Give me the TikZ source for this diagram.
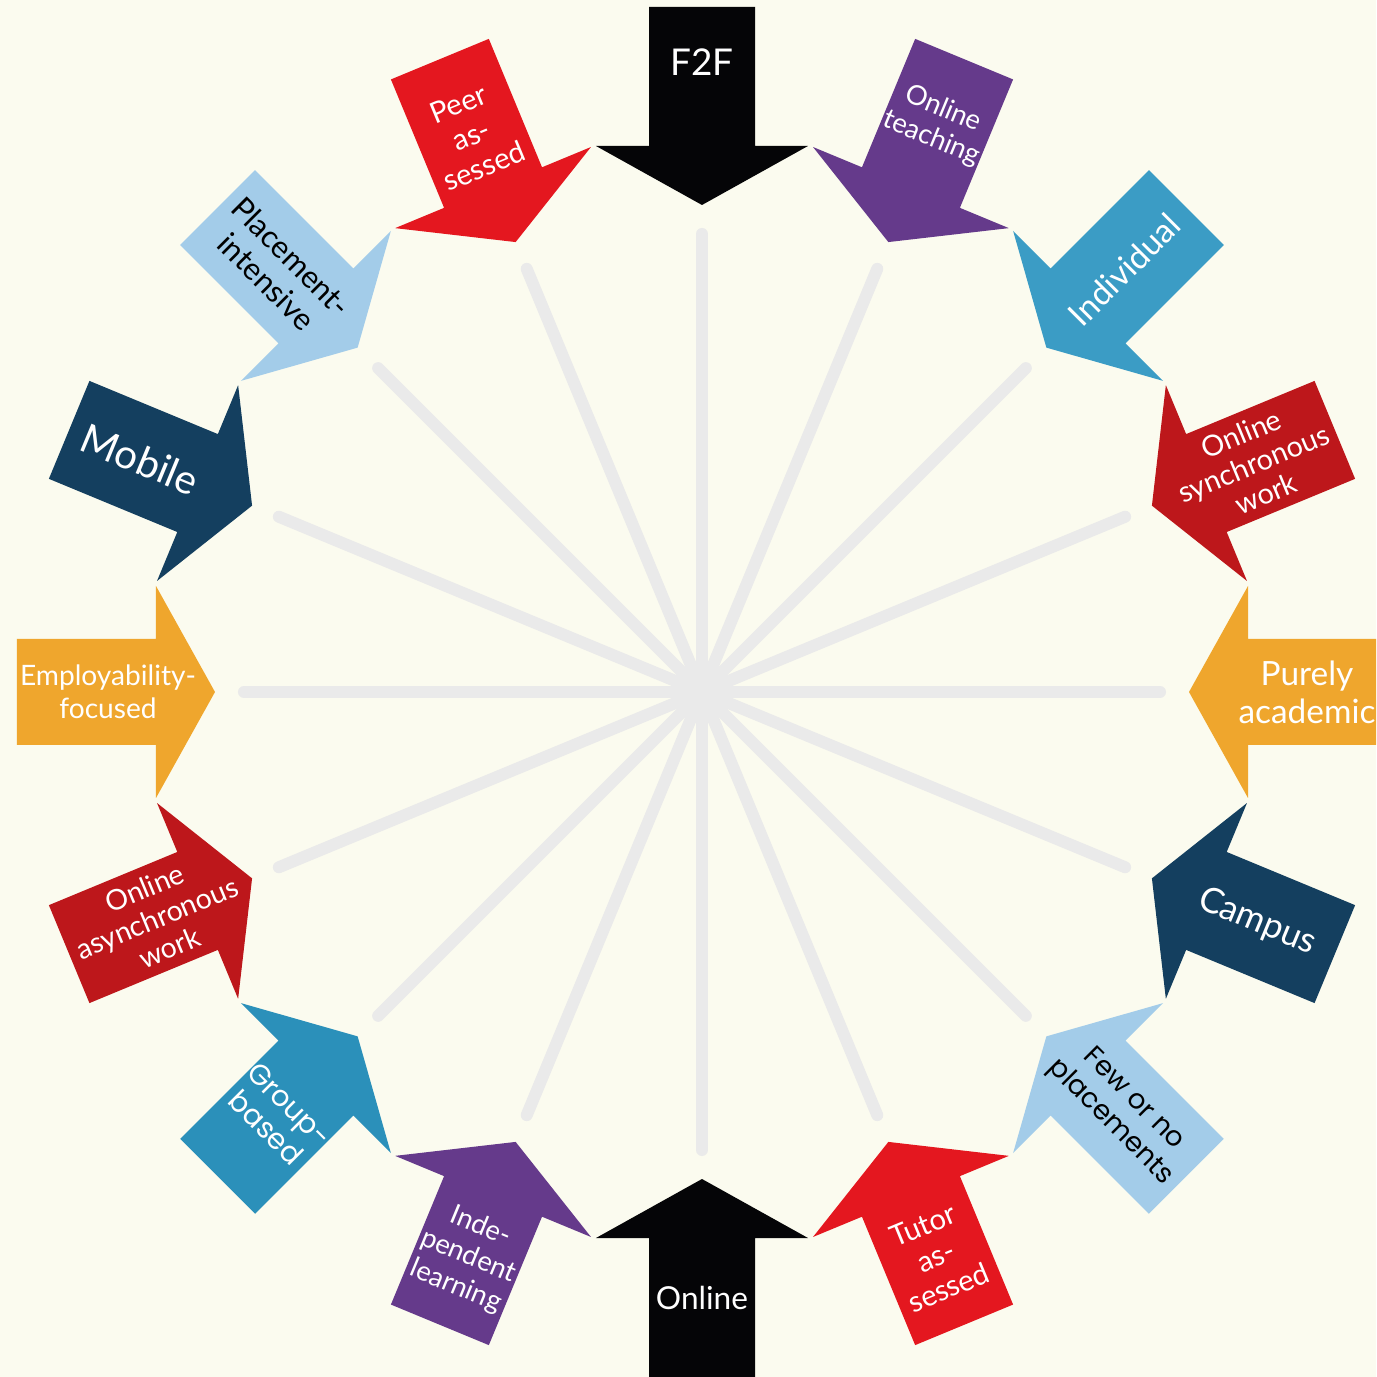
\documentclass[tikz,border=0pt]{standalone}
\usepackage{fontspec}
\setmainfont{Lato}
\newfontfamily\roundfont{Poppins}
\usepackage{xcolor}
\usepackage{tikz}
\definecolor{paper}{HTML}{FBFBEF}
\definecolor{spokegray}{HTML}{EAEAEA}
\definecolor{inkblack}{HTML}{050507}
\definecolor{brightred}{HTML}{E4171F}
\definecolor{deepred}{HTML}{BD171B}
\definecolor{plum}{HTML}{653A8B}
\definecolor{seablue}{HTML}{3B9CC5}
\definecolor{groupblue}{HTML}{2B90BA}
\definecolor{skyblue}{HTML}{A3CCE9}
\definecolor{deepnavy}{HTML}{143F5F}
\definecolor{amber}{HTML}{EFA62D}
\newcommand\tagsize[2]{\fontsize{#1}{#2}\selectfont}
\tikzset{
  spoke/.style={line width=0.12cm,color=spokegray,line cap=round},
  tag/.style={align=center,text=white,inner sep=0pt},
  darktag/.style={tag,text=black},
  inward/.pic={\fill[#1] (4.87,0) -- (5.46,1.06) -- (5.46,0.53) -- (6.85,0.53)
    -- (6.85,-0.53) -- (5.46,-0.53) -- (5.46,-1.06) -- cycle;}
}

\begin{document}
\begin{tikzpicture}
  \fill[paper] (-7.02,-6.85) rectangle (6.74,6.92);
  \useasboundingbox (-7.02,-6.85) rectangle (6.74,6.92);
  \clip (-7.02,-6.85) rectangle (6.74,6.92);
  % spokes
  \coordinate (hub) at (0,0);
  \draw[spoke] (90:4.58) -- (hub) -- (270:4.58);
  \draw[spoke] (112.5:4.58) -- (hub) -- (292.5:4.58);
  \draw[spoke] (135:4.58) -- (hub) -- (315:4.58);
  \draw[spoke] (157.5:4.58) -- (hub) -- (337.5:4.58);
  \draw[spoke] (180:4.58) -- (hub) -- (0:4.58);
  \draw[spoke] (202.5:4.58) -- (hub) -- (22.5:4.58);
  \draw[spoke] (225:4.58) -- (hub) -- (45:4.58);
  \draw[spoke] (247.5:4.58) -- (hub) -- (67.5:4.58);
  % arrows
  \pic[rotate=90] {inward=inkblack};
  \pic[rotate=67.5] {inward=plum};
  \pic[rotate=45] {inward=seablue};
  \pic[rotate=22.5] {inward=deepred};
  \pic[rotate=0] {inward=amber};
  \pic[rotate=-22.5] {inward=deepnavy};
  \pic[rotate=-45] {inward=skyblue};
  \pic[rotate=-67.5] {inward=brightred};
  \pic[rotate=-90] {inward=inkblack};
  \pic[rotate=-112.5] {inward=plum};
  \pic[rotate=-135] {inward=groupblue};
  \pic[rotate=-157.5] {inward=deepred};
  \pic[rotate=180] {inward=amber};
  \pic[rotate=157.5] {inward=deepnavy};
  \pic[rotate=135] {inward=skyblue};
  \pic[rotate=112.5] {inward=brightred};
  % labels
  \node[tag,font=\tagsize{10.5}{12}] (F2F) at (90:6.3) {F2F};
  \node[tag,rotate=-22.5,font=\tagsize{7.8}{9}] (OnlineTeaching) at (67.5:6.15) {Online\\teaching};
  \node[tag,rotate=45,font=\tagsize{9.5}{11}] (Individual) at (45:5.97) {Individual};
  \node[tag,rotate=22.5,font=\tagsize{8.2}{9.2}] (OnlineSync) at (22.5:5.97) {Online\\synchronous\\work};
  \node[tag,font=\tagsize{9.5}{10.8}] (Academic) at (0:6.05) {Purely\\academic};
  \node[tag,rotate=-22.5,font=\tagsize{10}{11}] (Campus) at (-22.5:6.01) {Campus};
  \node[darktag,rotate=-45,font=\roundfont\tagsize{7.8}{9.3}] (FewPlacements) at (-45:5.93) {Few or no\\placements};
  \node[tag,rotate=22.5,font=\tagsize{8.3}{9.6}] (TutorAssessed) at (-67.5:6.11) {Tutor\\as-\\sessed};
  \node[tag,font=\tagsize{9}{10}] (Online) at (-90:6.06) {Online};
  \node[tag,rotate=-22.5,font=\tagsize{7.8}{9.2}] (Independent) at (-112.5:6.11) {Inde-\\pendent\\learning};
  \node[tag,rotate=-45,font=\roundfont\tagsize{8.2}{9.4}] (GroupBased) at (-135:6.0) {Group-\\based};
  \node[tag,rotate=22.5,font=\tagsize{8.1}{9.2}] (OnlineAsync) at (-157.5:5.9) {Online\\asynchronous\\work};
  \node[tag,font=\tagsize{8}{9.4}] (Employability) at (180:5.94) {Employability-\\focused};
  \node[tag,rotate=-22.5,font=\tagsize{11.5}{13}] (Mobile) at (157.5:6.08) {Mobile};
  \node[darktag,rotate=-45,font=\tagsize{8.8}{10}] (Placement) at (135:5.98) {Placement-\\intensive};
  \node[tag,rotate=22.5,font=\tagsize{8.3}{9.6}] (PeerAssessed) at (112.5:6.03) {Peer\\as-\\sessed};
\end{tikzpicture}
\end{document}
